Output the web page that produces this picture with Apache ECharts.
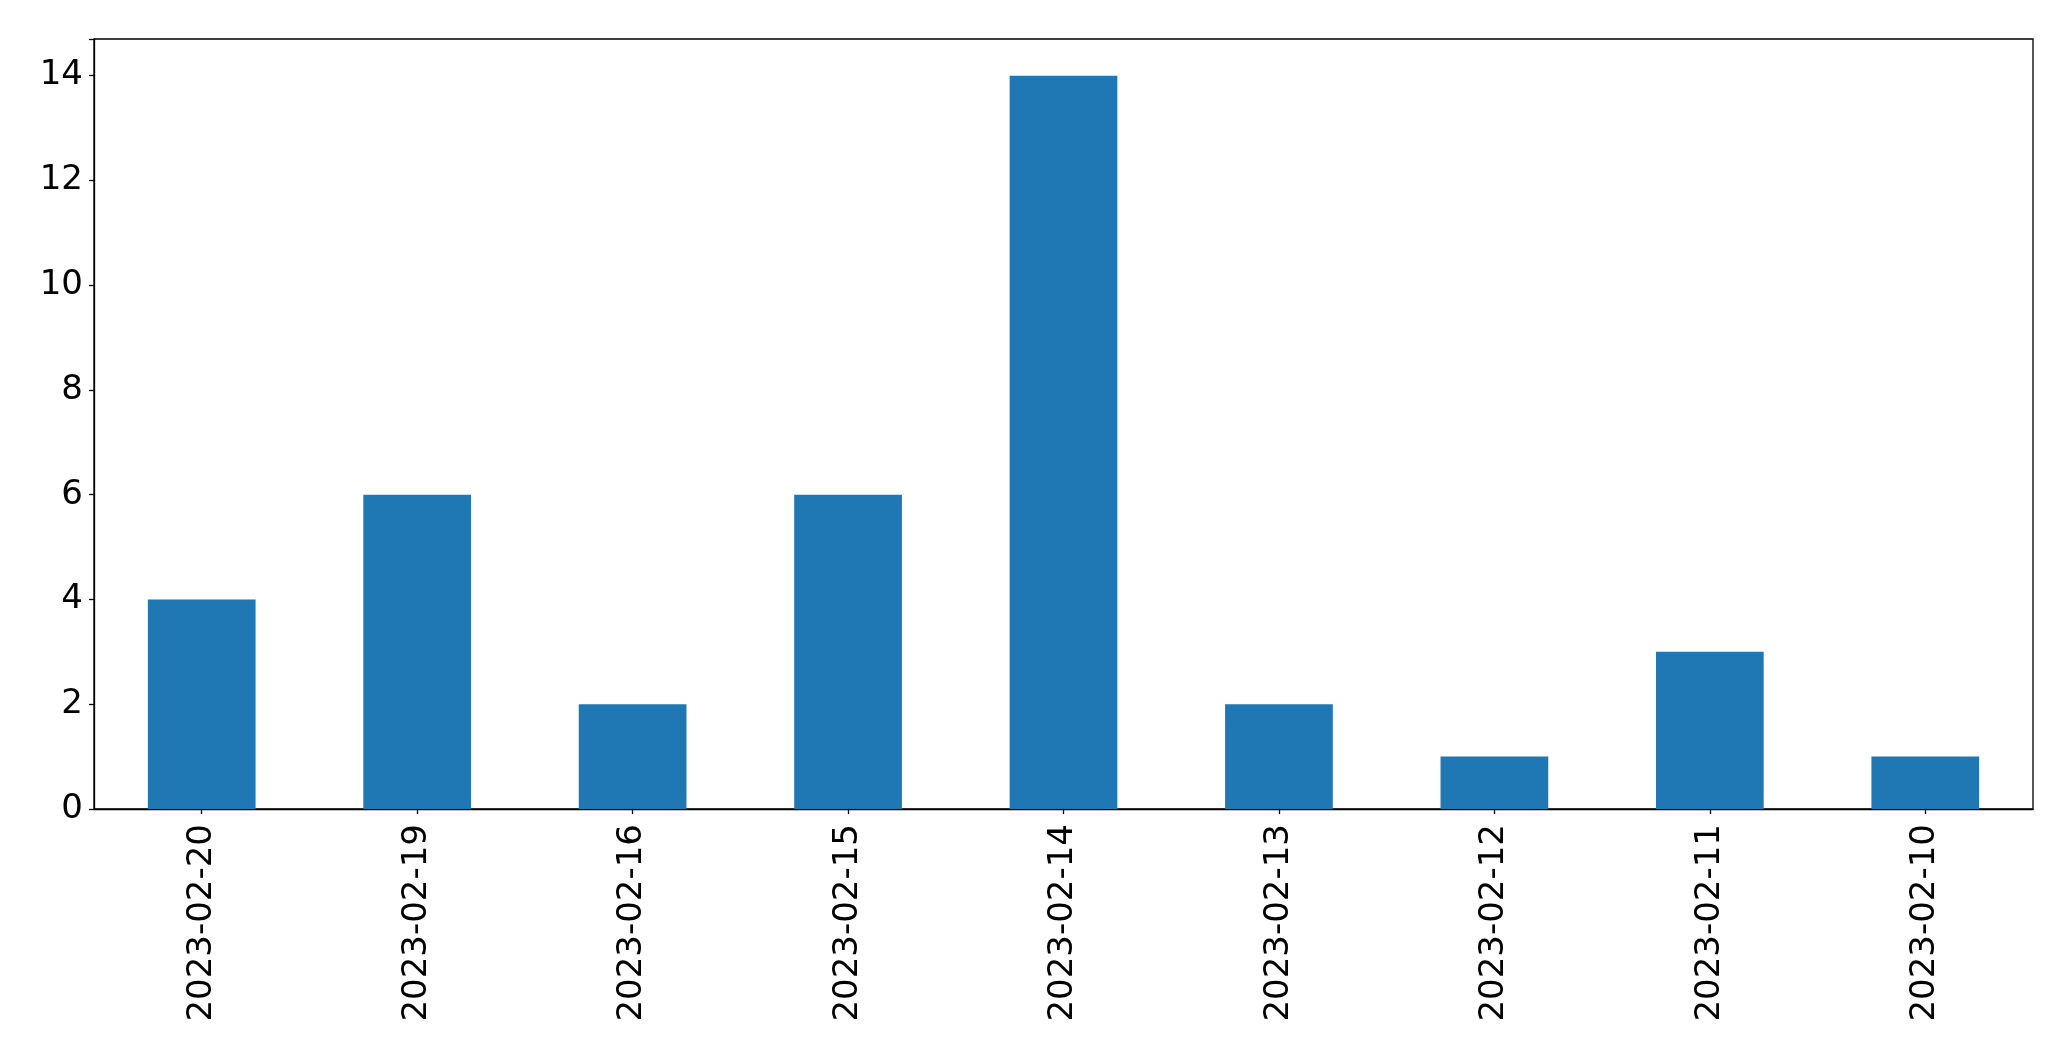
<!DOCTYPE html>
<html><head><meta charset="utf-8">
<script src="https://cdn.jsdelivr.net/npm/echarts@6/dist/echarts.min.js"></script>
<style>html,body{margin:0;padding:0;background:#fff}#c{width:2071px;height:1061px}</style>
</head><body><div id="c"></div>
<script>
const categories = ['2023-02-20','2023-02-19','2023-02-16','2023-02-15','2023-02-14','2023-02-13','2023-02-12','2023-02-11','2023-02-10'];
const values = [4, 6, 2, 6, 14, 2, 1, 3, 1];
const yTicks = [0, 2, 4, 6, 8, 10, 12, 14];

const chart = echarts.init(document.getElementById('c'), null, {renderer: 'canvas'});
const font = 'DejaVu Sans';
chart.setOption({
  animation: false,
  backgroundColor: '#fff',
  grid: {left: 94, top: 39, width: 1939, height: 770, show: true, borderColor: '#000', borderWidth: 1.3, backgroundColor: 'transparent', containLabel: false},
  xAxis: {
    type: 'category', data: categories, boundaryGap: true,
    axisLine: {show: true, lineStyle: {color: '#000', width: 1.3}},
    axisTick: {show: true, alignWithLabel: true, length: 5, lineStyle: {color: '#000', width: 1.3}},
    axisLabel: {rotate: 90, margin: 15, color: '#000', fontFamily: font, fontSize: 34, interval: 0},
    splitLine: {show: false}
  },
  yAxis: {
    type: 'value', min: 0, max: 14.7, interval: 2,
    axisLine: {show: true, lineStyle: {color: '#000', width: 1.3}},
    axisTick: {show: true, length: 5, lineStyle: {color: '#000', width: 1.3}},
    axisLabel: {margin: 11, color: '#000', fontFamily: font, fontSize: 34,
      formatter: v => yTicks.includes(v) ? String(v) : ''},
    splitLine: {show: false}
  },
  series: [{type: 'bar', data: values, barWidth: '50%', itemStyle: {color: '#1f77b4'}}]
});
</script></body></html>
